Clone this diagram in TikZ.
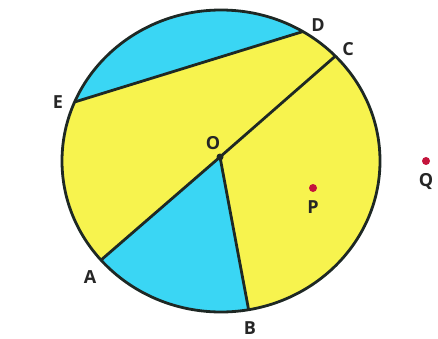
\documentclass[tikz,border=0pt]{standalone}
\usepackage{fontspec}
\setmainfont{Open Sans}
\usetikzlibrary{calc}
\definecolor{cyanfill}{RGB}{58,214,244}
\definecolor{yellowfill}{RGB}{247,243,78}
\definecolor{edge}{RGB}{30,40,36}
\definecolor{dotred}{RGB}{196,20,60}
\tikzset{
  seg/.style={draw=edge, line width=2.8pt},
  lbl/.style={font=\fontsize{18}{21}\selectfont\bfseries, text=black!85, inner sep=0pt},
  pdot/.style={circle, fill=dotred, minimum size=8pt, inner sep=0pt}
}
\begin{document}
\begin{tikzpicture}[x=1pt,y=1pt]
\useasboundingbox (0,0) rectangle (438,338);
\coordinate (c) at (221,177);
\coordinate (O) at (220,181);
\coordinate (D) at ($(c)+(59:159pt and 151pt)$);
\coordinate (C) at ($(c)+(44:159pt and 151pt)$);
\coordinate (E) at ($(c)+(157:159pt and 151pt)$);
\coordinate (A) at ($(c)+(221:159pt and 151pt)$);
\coordinate (B) at ($(c)+(280:159pt and 151pt)$);
% fills
\fill[yellowfill] (c) ellipse [x radius=159pt, y radius=151pt];
\fill[cyanfill] (D) arc[start angle=59, end angle=157, x radius=159pt, y radius=151pt] -- cycle;
\fill[cyanfill] (O) -- (A) arc[start angle=221, end angle=280, x radius=159pt, y radius=151pt] -- cycle;
% lines
\draw[seg] (E) -- (D);
\draw[seg] (O) -- (C);
\draw[seg] (O) -- (A);
\draw[seg] (O) -- (B);
\draw[seg] (c) ellipse [x radius=159pt, y radius=151pt];
\fill[edge] (O) circle (3.5pt);
% dots
\node[pdot] (dP) at (313,150) {};
\node[pdot] (dQ) at (426,177) {};
% labels
\node[lbl] (lD) at (318,313) {D};
\node[lbl] (lC) at (348,289) {C};
\node[lbl] (lE) at (58,236) {E};
\node[lbl] (lO) at (213,195) {O};
\node[lbl] (lA) at (90,61) {A};
\node[lbl] (lB) at (250,10) {B};
\node[lbl] (lP) at (313,131) {P};
\node[lbl] (lQ) at (426,156) {Q};
\end{tikzpicture}
\end{document}
